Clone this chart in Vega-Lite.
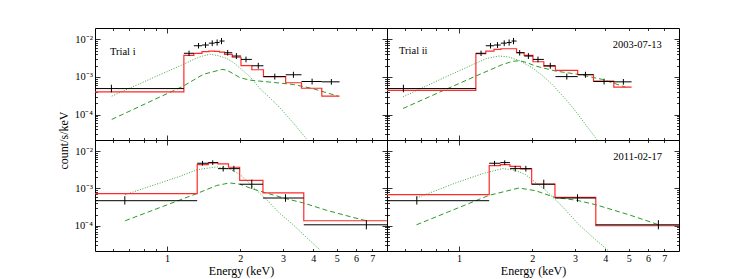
{
"$schema": "https://vega.github.io/schema/vega-lite/v6.json",
"padding": {"left": 56, "top": 27, "right": 5, "bottom": 3},
"background": "white",
"config": {
  "view": {"stroke": "black", "strokeWidth": 1},
  "axis": {"domain": false, "grid": false, "tickColor": "black", "tickWidth": 0.8, "labelFont": "Liberation Serif", "labelFontSize": 10, "labelColor": "black", "titleFont": "Liberation Serif", "titleFontSize": 12, "titleFontWeight": "normal", "titleColor": "black", "minExtent": 0, "labelOverlap": false, "labelFlush": false},
  "text": {"font": "Liberation Serif"}
},
"datasets": {
  "obs": [
    {"epoch":2003,"e":0.59,"lo":0.3,"hi":1.173,"y":0.00049,"ylo":0.00039,"yhi":0.00062},
    {"epoch":2003,"e":1.232,"lo":1.173,"hi":1.289,"y":0.00425,"ylo":0.0036,"yhi":0.005},
    {"epoch":2003,"e":1.348,"lo":1.289,"hi":1.393,"y":0.00675,"ylo":0.0057,"yhi":0.008},
    {"epoch":2003,"e":1.44,"lo":1.393,"hi":1.486,"y":0.00705,"ylo":0.0059,"yhi":0.0084},
    {"epoch":2003,"e":1.535,"lo":1.486,"hi":1.571,"y":0.0079,"ylo":0.0066,"yhi":0.0094},
    {"epoch":2003,"e":1.608,"lo":1.571,"hi":1.645,"y":0.0082,"ylo":0.0068,"yhi":0.0099},
    {"epoch":2003,"e":1.676,"lo":1.645,"hi":1.725,"y":0.009,"ylo":0.0074,"yhi":0.0109},
    {"epoch":2003,"e":1.777,"lo":1.725,"hi":1.855,"y":0.0044,"ylo":0.0037,"yhi":0.0052},
    {"epoch":2003,"e":1.93,"lo":1.855,"hi":2.016,"y":0.00359,"ylo":0.003,"yhi":0.0043},
    {"epoch":2003,"e":2.114,"lo":2.016,"hi":2.234,"y":0.00292,"ylo":0.00245,"yhi":0.00348},
    {"epoch":2003,"e":2.375,"lo":2.234,"hi":2.495,"y":0.00198,"ylo":0.00165,"yhi":0.00237},
    {"epoch":2003,"e":2.778,"lo":2.495,"hi":3.08,"y":0.00102,"ylo":0.00085,"yhi":0.00122},
    {"epoch":2003,"e":3.315,"lo":3.08,"hi":3.578,"y":0.00114,"ylo":0.00095,"yhi":0.00137},
    {"epoch":2003,"e":3.956,"lo":3.578,"hi":4.338,"y":0.000755,"ylo":0.00063,"yhi":0.0009},
    {"epoch":2003,"e":4.75,"lo":4.338,"hi":5.135,"y":0.00074,"ylo":0.00062,"yhi":0.00088},
    {"epoch":2011,"e":0.67,"lo":0.34,"hi":1.331,"y":0.00047,"ylo":0.00037,"yhi":0.00062},
    {"epoch":2011,"e":1.4,"lo":1.331,"hi":1.479,"y":0.00475,"ylo":0.0041,"yhi":0.0055},
    {"epoch":2011,"e":1.542,"lo":1.479,"hi":1.621,"y":0.00495,"ylo":0.0043,"yhi":0.0057},
    {"epoch":2011,"e":1.703,"lo":1.621,"hi":1.791,"y":0.00341,"ylo":0.00285,"yhi":0.00405},
    {"epoch":2011,"e":1.884,"lo":1.791,"hi":1.991,"y":0.00341,"ylo":0.00285,"yhi":0.00405},
    {"epoch":2011,"e":2.233,"lo":1.991,"hi":2.483,"y":0.0013,"ylo":0.00098,"yhi":0.00172},
    {"epoch":2011,"e":3.075,"lo":2.483,"hi":3.657,"y":0.000555,"ylo":0.00044,"yhi":0.0007},
    {"epoch":2011,"e":6.62,"lo":3.657,"hi":12,"y":0.000106,"ylo":0.00008,"yhi":0.000141}
  ],
  "model": [
    {"panel":"A","e":0.3,"v":0.0004},{"panel":"A","e":1.173,"v":0.00374},{"panel":"A","e":1.289,"v":0.00423},{"panel":"A","e":1.393,"v":0.00468},{"panel":"A","e":1.486,"v":0.00488},{"panel":"A","e":1.571,"v":0.0048},{"panel":"A","e":1.645,"v":0.00458},{"panel":"A","e":1.725,"v":0.00398},{"panel":"A","e":1.855,"v":0.00334},{"panel":"A","e":2.016,"v":0.002},{"panel":"A","e":2.234,"v":0.00155},{"panel":"A","e":2.495,"v":0.00102},{"panel":"A","e":3.08,"v":0.0007},{"panel":"A","e":3.578,"v":0.0005},{"panel":"A","e":4.338,"v":0.000308},{"panel":"A","e":5.135,"v":0.000308},
    {"panel":"B","e":0.3,"v":0.000437},{"panel":"B","e":1.173,"v":0.00414},{"panel":"B","e":1.289,"v":0.00488},{"panel":"B","e":1.393,"v":0.00541},{"panel":"B","e":1.486,"v":0.00562},{"panel":"B","e":1.571,"v":0.00562},{"panel":"B","e":1.645,"v":0.00562},{"panel":"B","e":1.725,"v":0.0044},{"panel":"B","e":1.855,"v":0.00374},{"panel":"B","e":2.016,"v":0.00253},{"panel":"B","e":2.234,"v":0.00194},{"panel":"B","e":2.495,"v":0.00149},{"panel":"B","e":3.08,"v":0.00116},{"panel":"B","e":3.578,"v":0.00077},{"panel":"B","e":4.338,"v":0.000535},{"panel":"B","e":5.135,"v":0.000535},
    {"panel":"C","e":0.34,"v":0.000724},{"panel":"C","e":1.331,"v":0.00438},{"panel":"C","e":1.479,"v":0.00485},{"panel":"C","e":1.621,"v":0.00456},{"panel":"C","e":1.791,"v":0.00371},{"panel":"C","e":1.991,"v":0.00166},{"panel":"C","e":2.483,"v":0.000758},{"panel":"C","e":3.657,"v":0.000136},{"panel":"C","e":12,"v":0.000136},
    {"panel":"D","e":0.34,"v":0.000683},{"panel":"D","e":1.331,"v":0.00411},{"panel":"D","e":1.479,"v":0.00438},{"panel":"D","e":1.621,"v":0.00394},{"panel":"D","e":1.791,"v":0.00334},{"panel":"D","e":1.991,"v":0.00132},{"panel":"D","e":2.483,"v":0.000578},{"panel":"D","e":3.657,"v":0.0001},{"panel":"D","e":12,"v":0.0001}
  ],
  "comp": [
    {"panel":"A","kind":"soft","e":0.592,"v":0.000308},{"panel":"A","kind":"soft","e":0.907,"v":0.00105},{"panel":"A","kind":"soft","e":1.167,"v":0.00215},{"panel":"A","kind":"soft","e":1.3,"v":0.003},{"panel":"A","kind":"soft","e":1.4,"v":0.0036},{"panel":"A","kind":"soft","e":1.5,"v":0.004},{"panel":"A","kind":"soft","e":1.62,"v":0.0037},{"panel":"A","kind":"soft","e":1.76,"v":0.0031},{"panel":"A","kind":"soft","e":1.88,"v":0.0024},{"panel":"A","kind":"soft","e":2.0,"v":0.0017},{"panel":"A","kind":"soft","e":2.2,"v":0.001},{"panel":"A","kind":"soft","e":2.42,"v":0.00048},{"panel":"A","kind":"soft","e":2.74,"v":0.000227},{"panel":"A","kind":"soft","e":2.92,"v":0.00015},{"panel":"A","kind":"soft","e":3.31,"v":0.00006},{"panel":"A","kind":"soft","e":3.76,"v":0.000022},
    {"panel":"A","kind":"hard","e":0.592,"v":0.000074},{"panel":"A","kind":"hard","e":1.167,"v":0.00057},{"panel":"A","kind":"hard","e":1.41,"v":0.00117},{"panel":"A","kind":"hard","e":1.68,"v":0.00158},{"panel":"A","kind":"hard","e":1.76,"v":0.00152},{"panel":"A","kind":"hard","e":1.88,"v":0.0012},{"panel":"A","kind":"hard","e":2.0,"v":0.00095},{"panel":"A","kind":"hard","e":2.2,"v":0.00082},{"panel":"A","kind":"hard","e":2.76,"v":0.00071},{"panel":"A","kind":"hard","e":3.31,"v":0.00063},{"panel":"A","kind":"hard","e":3.98,"v":0.00049},{"panel":"A","kind":"hard","e":5.06,"v":0.000308},
    {"panel":"B","kind":"soft","e":0.588,"v":0.000295},{"panel":"B","kind":"soft","e":0.881,"v":0.001},{"panel":"B","kind":"soft","e":1.171,"v":0.0023},{"panel":"B","kind":"soft","e":1.3,"v":0.0031},{"panel":"B","kind":"soft","e":1.46,"v":0.0036},{"panel":"B","kind":"soft","e":1.6,"v":0.0034},{"panel":"B","kind":"soft","e":1.777,"v":0.0027},{"panel":"B","kind":"soft","e":2.0,"v":0.00175},{"panel":"B","kind":"soft","e":2.2,"v":0.0011},{"panel":"B","kind":"soft","e":2.42,"v":0.00063},{"panel":"B","kind":"soft","e":2.7,"v":0.00029},{"panel":"B","kind":"soft","e":3.02,"v":0.000123},{"panel":"B","kind":"soft","e":3.35,"v":0.00005},{"panel":"B","kind":"soft","e":3.71,"v":0.000021},
    {"panel":"B","kind":"hard","e":0.588,"v":0.000145},{"panel":"B","kind":"hard","e":1.171,"v":0.00105},{"panel":"B","kind":"hard","e":1.5,"v":0.0021},{"panel":"B","kind":"hard","e":1.66,"v":0.0026},{"panel":"B","kind":"hard","e":1.78,"v":0.0027},{"panel":"B","kind":"hard","e":1.9,"v":0.0024},{"panel":"B","kind":"hard","e":2.07,"v":0.00194},{"panel":"B","kind":"hard","e":2.5,"v":0.00143},{"panel":"B","kind":"hard","e":3.12,"v":0.00116},{"panel":"B","kind":"hard","e":3.89,"v":0.00086},{"panel":"B","kind":"hard","e":4.85,"v":0.000535},
    {"panel":"C","kind":"soft","e":0.672,"v":0.00068},{"panel":"C","kind":"soft","e":0.936,"v":0.00141},{"panel":"C","kind":"soft","e":1.13,"v":0.00212},{"panel":"C","kind":"soft","e":1.333,"v":0.0032},{"panel":"C","kind":"soft","e":1.6,"v":0.0038},{"panel":"C","kind":"soft","e":1.8,"v":0.0034},{"panel":"C","kind":"soft","e":2.0,"v":0.00235},{"panel":"C","kind":"soft","e":2.25,"v":0.00114},{"panel":"C","kind":"soft","e":2.57,"v":0.0005},{"panel":"C","kind":"soft","e":2.9,"v":0.00022},{"panel":"C","kind":"soft","e":3.31,"v":0.000106},{"panel":"C","kind":"soft","e":3.8,"v":0.000045},{"panel":"C","kind":"soft","e":4.26,"v":0.0000226},
    {"panel":"C","kind":"hard","e":0.672,"v":0.000136},{"panel":"C","kind":"hard","e":1.333,"v":0.00074},{"panel":"C","kind":"hard","e":1.6,"v":0.0012},{"panel":"C","kind":"hard","e":1.81,"v":0.00141},{"panel":"C","kind":"hard","e":2.0,"v":0.0013},{"panel":"C","kind":"hard","e":2.25,"v":0.00097},{"panel":"C","kind":"hard","e":3.1,"v":0.00053},{"panel":"C","kind":"hard","e":3.64,"v":0.00041},{"panel":"C","kind":"hard","e":4.54,"v":0.00026},{"panel":"C","kind":"hard","e":5.84,"v":0.000167},{"panel":"C","kind":"hard","e":6.63,"v":0.000136},
    {"panel":"D","kind":"soft","e":0.668,"v":0.000555},{"panel":"D","kind":"soft","e":0.969,"v":0.00141},{"panel":"D","kind":"soft","e":1.25,"v":0.0025},{"panel":"D","kind":"soft","e":1.507,"v":0.00341},{"panel":"D","kind":"soft","e":1.7,"v":0.0031},{"panel":"D","kind":"soft","e":1.88,"v":0.00235},{"panel":"D","kind":"soft","e":2.27,"v":0.0009},{"panel":"D","kind":"soft","e":2.66,"v":0.00033},{"panel":"D","kind":"soft","e":3.12,"v":0.000106},{"panel":"D","kind":"soft","e":3.65,"v":0.000042},{"panel":"D","kind":"soft","e":4.14,"v":0.000021},
    {"panel":"D","kind":"hard","e":0.668,"v":0.000106},{"panel":"D","kind":"hard","e":1.329,"v":0.000655},{"panel":"D","kind":"hard","e":1.765,"v":0.00103},{"panel":"D","kind":"hard","e":2.07,"v":0.00087},{"panel":"D","kind":"hard","e":2.476,"v":0.000578},{"panel":"D","kind":"hard","e":3.07,"v":0.00048},{"panel":"D","kind":"hard","e":3.65,"v":0.000367},{"panel":"D","kind":"hard","e":5.01,"v":0.000197},{"panel":"D","kind":"hard","e":6.65,"v":0.000106}
  ]
},
"columns": 2,
"spacing": 0,
"bounds": "flush",
"concat": [
  {
    "width": 292, "height": 112,
    "layer": [
      {"data": {"name": "comp"}, "transform": [{"filter": "datum.panel == 'A' && datum.kind == 'soft'"}],
       "mark": {"type": "line", "color": "#3aaa3a", "strokeWidth": 1, "strokeDash": [1, 1.6], "clip": true},
       "encoding": {
         "x": {"field": "e", "type": "quantitative", "scale": {"type": "log", "domain": [0.505, 8.05], "nice": false}, "axis": {"orient": "bottom", "values": [1], "tickSize": -5, "labels": false, "title": null}},
         "y": {"field": "v", "type": "quantitative", "scale": {"type": "log", "domain": [0.000021, 0.02], "nice": false}, "axis": {"orient": "left", "values": [0.0001, 0.001, 0.01], "tickSize": -5, "labelPadding": 7.5, "labelFontSize": 10.5, "labelExpr": "datum.value > 0.005 ? '10⁻²' : datum.value > 0.0005 ? '10⁻³' : '10⁻⁴'", "title": "count/s/keV", "titleY": 112, "titlePadding": 4}}
       }},
      {"data": {"name": "comp"}, "transform": [{"filter": "datum.panel == 'A' && datum.kind == 'hard'"}],
       "mark": {"type": "line", "color": "#2a9a2a", "strokeWidth": 1, "strokeDash": [5, 3], "clip": true},
       "encoding": {
         "x": {"field": "e", "type": "quantitative", "scale": {"type": "log", "domain": [0.505, 8.05], "nice": false}, "axis": {"orient": "bottom", "values": [0.6, 0.7, 0.8, 0.9, 2, 3, 4, 5, 6, 7], "tickSize": -2.5, "labels": false, "title": null}},
         "y": {"field": "v", "type": "quantitative", "scale": {"type": "log", "domain": [0.000021, 0.02], "nice": false}, "axis": {"orient": "left", "values": [0.00003,0.00004,0.00005,0.00006,0.00007,0.00008,0.00009,0.0002,0.0003,0.0004,0.0005,0.0006,0.0007,0.0008,0.0009,0.002,0.003,0.004,0.005,0.006,0.007,0.008,0.009], "tickSize": -2.5, "labels": false, "title": null}}
       }},
      {"data": {"name": "model"}, "transform": [{"filter": "datum.panel == 'A'"}],
       "mark": {"type": "line", "interpolate": "step-after", "color": "#ff2a2a", "strokeWidth": 1.2, "clip": true},
       "encoding": {
         "x": {"field": "e", "type": "quantitative", "scale": {"type": "log", "domain": [0.505, 8.05], "nice": false}, "axis": {"orient": "top", "values": [1], "tickSize": -5, "labels": false, "title": null}},
         "y": {"field": "v", "type": "quantitative", "scale": {"type": "log", "domain": [0.000021, 0.02], "nice": false}, "axis": {"orient": "right", "values": [0.0001, 0.001, 0.01], "tickSize": -5, "labels": false, "title": null}}
       }},
      {"data": {"name": "obs"}, "transform": [{"filter": "datum.epoch == 2003"}],
       "mark": {"type": "rule", "color": "black", "strokeWidth": 1, "clip": true},
       "encoding": {
         "x": {"field": "lo", "type": "quantitative", "scale": {"type": "log", "domain": [0.505, 8.05], "nice": false}, "axis": {"orient": "top", "values": [0.6, 0.7, 0.8, 0.9, 2, 3, 4, 5, 6, 7], "tickSize": -2.5, "labels": false, "title": null}},
         "x2": {"field": "hi"},
         "y": {"field": "y", "type": "quantitative", "scale": {"type": "log", "domain": [0.000021, 0.02], "nice": false}, "axis": {"orient": "right", "values": [0.00003,0.00004,0.00005,0.00006,0.00007,0.00008,0.00009,0.0002,0.0003,0.0004,0.0005,0.0006,0.0007,0.0008,0.0009,0.002,0.003,0.004,0.005,0.006,0.007,0.008,0.009], "tickSize": -2.5, "labels": false, "title": null}}
       }},
      {"data": {"name": "obs"}, "transform": [{"filter": "datum.epoch == 2003"}],
       "mark": {"type": "rule", "color": "black", "strokeWidth": 1, "clip": true},
       "encoding": {
         "x": {"field": "e", "type": "quantitative", "scale": {"type": "log", "domain": [0.505, 8.05], "nice": false}, "axis": null},
         "y": {"field": "ylo", "type": "quantitative", "scale": {"type": "log", "domain": [0.000021, 0.02], "nice": false}, "axis": null},
         "y2": {"field": "yhi"}
       }},
      {"data": {"values": [{"t": "Trial i"}]},
       "mark": {"type": "text", "align": "left", "baseline": "alphabetic", "fontSize": 10.5, "color": "black", "font": "Liberation Serif"},
       "encoding": {
         "x": {"datum": 0.582, "type": "quantitative", "axis": null},
         "y": {"datum": 0.00393, "type": "quantitative", "axis": null},
         "text": {"field": "t"}
       }}
    ],
    "resolve": {"axis": {"x": "independent", "y": "independent"}}
  },
  {
    "width": 292, "height": 112,
    "layer": [
      {"data": {"name": "comp"}, "transform": [{"filter": "datum.panel == 'B' && datum.kind == 'soft'"}],
       "mark": {"type": "line", "color": "#3aaa3a", "strokeWidth": 1, "strokeDash": [1, 1.6], "clip": true},
       "encoding": {
         "x": {"field": "e", "type": "quantitative", "scale": {"type": "log", "domain": [0.505, 8.05], "nice": false}, "axis": {"orient": "bottom", "values": [1], "tickSize": -5, "labels": false, "title": null}},
         "y": {"field": "v", "type": "quantitative", "scale": {"type": "log", "domain": [0.000021, 0.02], "nice": false}, "axis": {"orient": "left", "values": [0.0001, 0.001, 0.01], "tickSize": -5, "labels": false, "title": null}}
       }},
      {"data": {"name": "comp"}, "transform": [{"filter": "datum.panel == 'B' && datum.kind == 'hard'"}],
       "mark": {"type": "line", "color": "#2a9a2a", "strokeWidth": 1, "strokeDash": [5, 3], "clip": true},
       "encoding": {
         "x": {"field": "e", "type": "quantitative", "scale": {"type": "log", "domain": [0.505, 8.05], "nice": false}, "axis": {"orient": "bottom", "values": [0.6, 0.7, 0.8, 0.9, 2, 3, 4, 5, 6, 7], "tickSize": -2.5, "labels": false, "title": null}},
         "y": {"field": "v", "type": "quantitative", "scale": {"type": "log", "domain": [0.000021, 0.02], "nice": false}, "axis": {"orient": "left", "values": [0.00003,0.00004,0.00005,0.00006,0.00007,0.00008,0.00009,0.0002,0.0003,0.0004,0.0005,0.0006,0.0007,0.0008,0.0009,0.002,0.003,0.004,0.005,0.006,0.007,0.008,0.009], "tickSize": -2.5, "labels": false, "title": null}}
       }},
      {"data": {"name": "model"}, "transform": [{"filter": "datum.panel == 'B'"}],
       "mark": {"type": "line", "interpolate": "step-after", "color": "#ff2a2a", "strokeWidth": 1.2, "clip": true},
       "encoding": {
         "x": {"field": "e", "type": "quantitative", "scale": {"type": "log", "domain": [0.505, 8.05], "nice": false}, "axis": {"orient": "top", "values": [1], "tickSize": -5, "labels": false, "title": null}},
         "y": {"field": "v", "type": "quantitative", "scale": {"type": "log", "domain": [0.000021, 0.02], "nice": false}, "axis": {"orient": "right", "values": [0.0001, 0.001, 0.01], "tickSize": -5, "labels": false, "title": null}}
       }},
      {"data": {"name": "obs"}, "transform": [{"filter": "datum.epoch == 2003"}],
       "mark": {"type": "rule", "color": "black", "strokeWidth": 1, "clip": true},
       "encoding": {
         "x": {"field": "lo", "type": "quantitative", "scale": {"type": "log", "domain": [0.505, 8.05], "nice": false}, "axis": {"orient": "top", "values": [0.6, 0.7, 0.8, 0.9, 2, 3, 4, 5, 6, 7], "tickSize": -2.5, "labels": false, "title": null}},
         "x2": {"field": "hi"},
         "y": {"field": "y", "type": "quantitative", "scale": {"type": "log", "domain": [0.000021, 0.02], "nice": false}, "axis": {"orient": "right", "values": [0.00003,0.00004,0.00005,0.00006,0.00007,0.00008,0.00009,0.0002,0.0003,0.0004,0.0005,0.0006,0.0007,0.0008,0.0009,0.002,0.003,0.004,0.005,0.006,0.007,0.008,0.009], "tickSize": -2.5, "labels": false, "title": null}}
       }},
      {"data": {"name": "obs"}, "transform": [{"filter": "datum.epoch == 2003"}],
       "mark": {"type": "rule", "color": "black", "strokeWidth": 1, "clip": true},
       "encoding": {
         "x": {"field": "e", "type": "quantitative", "scale": {"type": "log", "domain": [0.505, 8.05], "nice": false}, "axis": null},
         "y": {"field": "ylo", "type": "quantitative", "scale": {"type": "log", "domain": [0.000021, 0.02], "nice": false}, "axis": null},
         "y2": {"field": "yhi"}
       }},
      {"data": {"values": [{"t": "Trial ii"}]},
       "mark": {"type": "text", "align": "left", "baseline": "alphabetic", "fontSize": 10.5, "color": "black", "font": "Liberation Serif"},
       "encoding": {
         "x": {"datum": 0.566, "type": "quantitative", "axis": null},
         "y": {"datum": 0.00406, "type": "quantitative", "axis": null},
         "text": {"field": "t"}
       }},
      {"data": {"values": [{"t": "2003-07-13"}]},
       "mark": {"type": "text", "align": "right", "baseline": "alphabetic", "fontSize": 10.5, "color": "black", "font": "Liberation Serif"},
       "encoding": {
         "x": {"datum": 6.84, "type": "quantitative", "axis": null},
         "y": {"datum": 0.00575, "type": "quantitative", "axis": null},
         "text": {"field": "t"}
       }}
    ],
    "resolve": {"axis": {"x": "independent", "y": "independent"}}
  },
  {
    "width": 292, "height": 111,
    "layer": [
      {"data": {"name": "comp"}, "transform": [{"filter": "datum.panel == 'C' && datum.kind == 'soft'"}],
       "mark": {"type": "line", "color": "#3aaa3a", "strokeWidth": 1, "strokeDash": [1, 1.6], "clip": true},
       "encoding": {
         "x": {"field": "e", "type": "quantitative", "scale": {"type": "log", "domain": [0.505, 8.05], "nice": false}, "axis": {"orient": "bottom", "values": [1], "tickSize": -5, "labelPadding": 7, "labelExpr": "'1'", "title": "Energy (keV)", "titlePadding": 2}},
         "y": {"field": "v", "type": "quantitative", "scale": {"type": "log", "domain": [0.000021, 0.02], "nice": false}, "axis": {"orient": "left", "values": [0.0001, 0.001, 0.01], "tickSize": -5, "labelPadding": 7.5, "labelFontSize": 10.5, "labelExpr": "datum.value > 0.005 ? '10⁻²' : datum.value > 0.0005 ? '10⁻³' : '10⁻⁴'", "title": null}}
       }},
      {"data": {"name": "comp"}, "transform": [{"filter": "datum.panel == 'C' && datum.kind == 'hard'"}],
       "mark": {"type": "line", "color": "#2a9a2a", "strokeWidth": 1, "strokeDash": [5, 3], "clip": true},
       "encoding": {
         "x": {"field": "e", "type": "quantitative", "scale": {"type": "log", "domain": [0.505, 8.05], "nice": false}, "axis": {"orient": "bottom", "values": [0.6, 0.7, 0.8, 0.9, 2, 3, 4, 5, 6, 7], "tickSize": -2.5, "labelPadding": 4.5, "labelExpr": "datum.value >= 1.5 ? format(datum.value, 'd') : ''", "title": null}},
         "y": {"field": "v", "type": "quantitative", "scale": {"type": "log", "domain": [0.000021, 0.02], "nice": false}, "axis": {"orient": "left", "values": [0.00003,0.00004,0.00005,0.00006,0.00007,0.00008,0.00009,0.0002,0.0003,0.0004,0.0005,0.0006,0.0007,0.0008,0.0009,0.002,0.003,0.004,0.005,0.006,0.007,0.008,0.009], "tickSize": -2.5, "labels": false, "title": null}}
       }},
      {"data": {"name": "model"}, "transform": [{"filter": "datum.panel == 'C'"}],
       "mark": {"type": "line", "interpolate": "step-after", "color": "#ff2a2a", "strokeWidth": 1.2, "clip": true},
       "encoding": {
         "x": {"field": "e", "type": "quantitative", "scale": {"type": "log", "domain": [0.505, 8.05], "nice": false}, "axis": {"orient": "top", "values": [1], "tickSize": -5, "labels": false, "title": null}},
         "y": {"field": "v", "type": "quantitative", "scale": {"type": "log", "domain": [0.000021, 0.02], "nice": false}, "axis": {"orient": "right", "values": [0.0001, 0.001, 0.01], "tickSize": -5, "labels": false, "title": null}}
       }},
      {"data": {"name": "obs"}, "transform": [{"filter": "datum.epoch == 2011"}],
       "mark": {"type": "rule", "color": "black", "strokeWidth": 1, "clip": true},
       "encoding": {
         "x": {"field": "lo", "type": "quantitative", "scale": {"type": "log", "domain": [0.505, 8.05], "nice": false}, "axis": {"orient": "top", "values": [0.6, 0.7, 0.8, 0.9, 2, 3, 4, 5, 6, 7], "tickSize": -2.5, "labels": false, "title": null}},
         "x2": {"field": "hi"},
         "y": {"field": "y", "type": "quantitative", "scale": {"type": "log", "domain": [0.000021, 0.02], "nice": false}, "axis": {"orient": "right", "values": [0.00003,0.00004,0.00005,0.00006,0.00007,0.00008,0.00009,0.0002,0.0003,0.0004,0.0005,0.0006,0.0007,0.0008,0.0009,0.002,0.003,0.004,0.005,0.006,0.007,0.008,0.009], "tickSize": -2.5, "labels": false, "title": null}}
       }},
      {"data": {"name": "obs"}, "transform": [{"filter": "datum.epoch == 2011"}],
       "mark": {"type": "rule", "color": "black", "strokeWidth": 1, "clip": true},
       "encoding": {
         "x": {"field": "e", "type": "quantitative", "scale": {"type": "log", "domain": [0.505, 8.05], "nice": false}, "axis": null},
         "y": {"field": "ylo", "type": "quantitative", "scale": {"type": "log", "domain": [0.000021, 0.02], "nice": false}, "axis": null},
         "y2": {"field": "yhi"}
       }}
    ],
    "resolve": {"axis": {"x": "independent", "y": "independent"}}
  },
  {
    "width": 292, "height": 111,
    "layer": [
      {"data": {"name": "comp"}, "transform": [{"filter": "datum.panel == 'D' && datum.kind == 'soft'"}],
       "mark": {"type": "line", "color": "#3aaa3a", "strokeWidth": 1, "strokeDash": [1, 1.6], "clip": true},
       "encoding": {
         "x": {"field": "e", "type": "quantitative", "scale": {"type": "log", "domain": [0.505, 8.05], "nice": false}, "axis": {"orient": "bottom", "values": [1], "tickSize": -5, "labelPadding": 7, "labelExpr": "'1'", "title": "Energy (keV)", "titlePadding": 2}},
         "y": {"field": "v", "type": "quantitative", "scale": {"type": "log", "domain": [0.000021, 0.02], "nice": false}, "axis": {"orient": "left", "values": [0.0001, 0.001, 0.01], "tickSize": -5, "labels": false, "title": null}}
       }},
      {"data": {"name": "comp"}, "transform": [{"filter": "datum.panel == 'D' && datum.kind == 'hard'"}],
       "mark": {"type": "line", "color": "#2a9a2a", "strokeWidth": 1, "strokeDash": [5, 3], "clip": true},
       "encoding": {
         "x": {"field": "e", "type": "quantitative", "scale": {"type": "log", "domain": [0.505, 8.05], "nice": false}, "axis": {"orient": "bottom", "values": [0.6, 0.7, 0.8, 0.9, 2, 3, 4, 5, 6, 7], "tickSize": -2.5, "labelPadding": 4.5, "labelExpr": "datum.value >= 1.5 ? format(datum.value, 'd') : ''", "title": null}},
         "y": {"field": "v", "type": "quantitative", "scale": {"type": "log", "domain": [0.000021, 0.02], "nice": false}, "axis": {"orient": "left", "values": [0.00003,0.00004,0.00005,0.00006,0.00007,0.00008,0.00009,0.0002,0.0003,0.0004,0.0005,0.0006,0.0007,0.0008,0.0009,0.002,0.003,0.004,0.005,0.006,0.007,0.008,0.009], "tickSize": -2.5, "labels": false, "title": null}}
       }},
      {"data": {"name": "model"}, "transform": [{"filter": "datum.panel == 'D'"}],
       "mark": {"type": "line", "interpolate": "step-after", "color": "#ff2a2a", "strokeWidth": 1.2, "clip": true},
       "encoding": {
         "x": {"field": "e", "type": "quantitative", "scale": {"type": "log", "domain": [0.505, 8.05], "nice": false}, "axis": {"orient": "top", "values": [1], "tickSize": -5, "labels": false, "title": null}},
         "y": {"field": "v", "type": "quantitative", "scale": {"type": "log", "domain": [0.000021, 0.02], "nice": false}, "axis": {"orient": "right", "values": [0.0001, 0.001, 0.01], "tickSize": -5, "labels": false, "title": null}}
       }},
      {"data": {"name": "obs"}, "transform": [{"filter": "datum.epoch == 2011"}],
       "mark": {"type": "rule", "color": "black", "strokeWidth": 1, "clip": true},
       "encoding": {
         "x": {"field": "lo", "type": "quantitative", "scale": {"type": "log", "domain": [0.505, 8.05], "nice": false}, "axis": {"orient": "top", "values": [0.6, 0.7, 0.8, 0.9, 2, 3, 4, 5, 6, 7], "tickSize": -2.5, "labels": false, "title": null}},
         "x2": {"field": "hi"},
         "y": {"field": "y", "type": "quantitative", "scale": {"type": "log", "domain": [0.000021, 0.02], "nice": false}, "axis": {"orient": "right", "values": [0.00003,0.00004,0.00005,0.00006,0.00007,0.00008,0.00009,0.0002,0.0003,0.0004,0.0005,0.0006,0.0007,0.0008,0.0009,0.002,0.003,0.004,0.005,0.006,0.007,0.008,0.009], "tickSize": -2.5, "labels": false, "title": null}}
       }},
      {"data": {"name": "obs"}, "transform": [{"filter": "datum.epoch == 2011"}],
       "mark": {"type": "rule", "color": "black", "strokeWidth": 1, "clip": true},
       "encoding": {
         "x": {"field": "e", "type": "quantitative", "scale": {"type": "log", "domain": [0.505, 8.05], "nice": false}, "axis": null},
         "y": {"field": "ylo", "type": "quantitative", "scale": {"type": "log", "domain": [0.000021, 0.02], "nice": false}, "axis": null},
         "y2": {"field": "yhi"}
       }},
      {"data": {"values": [{"t": "2011-02-17"}]},
       "mark": {"type": "text", "align": "right", "baseline": "alphabetic", "fontSize": 10.5, "color": "black", "font": "Liberation Serif"},
       "encoding": {
         "x": {"datum": 6.85, "type": "quantitative", "axis": null},
         "y": {"datum": 0.00573, "type": "quantitative", "axis": null},
         "text": {"field": "t"}
       }}
    ],
    "resolve": {"axis": {"x": "independent", "y": "independent"}}
  }
]
}
